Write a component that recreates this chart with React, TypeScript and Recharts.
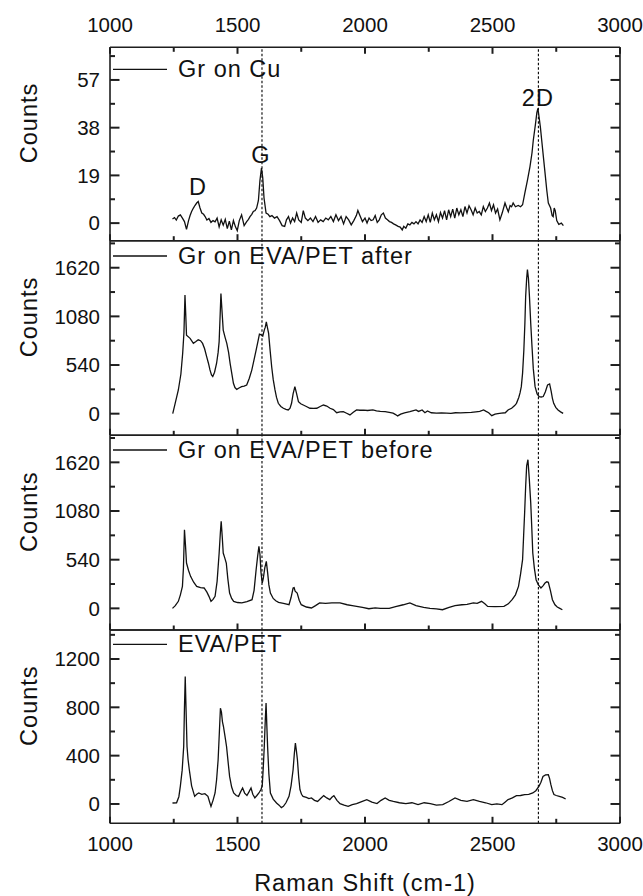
import React from 'react';
import { LineChart, Line, XAxis, YAxis, ReferenceLine, ReferenceDot, Legend } from 'recharts';

const FONT = "'Liberation Sans', Arial, sans-serif";
const INK = '#111111';
const FRAME = '#1e1e1e';
const THIN = 0.01;

// ---------- axis ticks ----------
const xMajorTicks = [1000, 1500, 2000, 2500, 3000];
const xMinorTicks = [1250, 1750, 2250, 2750];
const cuYMajor = [0, 19, 38, 57];
const cuYMinor = [9.5, 28.5, 47.5, 66.5];
const grYMajor = [0, 540, 1080, 1620];
const grYMinor = [270, 810, 1350, 1890];
const petYMajor = [0, 400, 800, 1200];
const petYMinor = [200, 600, 1000, 1400];

// ---------- series names ----------
const seriesNames = ['Gr on Cu', 'Gr on EVA/PET after', 'Gr on EVA/PET before', 'EVA/PET'];

// ---------- reference peak positions ----------
const peakLines = [1596, 2680];
const cuPeakNames = ['D', 'G', '2D'];
const cuPeakShift = [1345, 1592, 2678];
const cuPeakAnchor = [9.3, 21.9, 44.8];

// ---------- Gr on Cu ----------
const cuShift = [1245,1253,1260,1268,1276,1284,1292,1300,1308,1314,1320,1327,1333,1340,1346,1353,1360,1367,1373,1380,1388,1396,1404,1412,1420,1428,1436,1444,1452,1460,1468,1476,1484,1492,1499,1507,1516,1526,1536,1543,1549,1556,1562,1569,1575,1582,1588,1594,1599,1604,1612,1620,1627,1635,1645,1655,1665,1675,1685,1692,1700,1708,1716,1724,1732,1740,1750,1758,1766,1776,1786,1796,1806,1816,1826,1836,1846,1856,1866,1876,1886,1896,1906,1916,1926,1936,1946,1956,1966,1972,1980,1990,2000,2008,2016,2024,2032,2040,2048,2056,2064,2072,2080,2088,2096,2104,2112,2120,2130,2138,2146,2152,2160,2168,2176,2184,2192,2200,2208,2216,2224,2232,2240,2248,2256,2264,2272,2280,2288,2296,2304,2312,2320,2328,2336,2344,2352,2360,2368,2376,2384,2392,2400,2408,2416,2424,2432,2440,2448,2456,2464,2472,2480,2488,2496,2504,2512,2520,2529,2538,2549,2556,2562,2569,2575,2581,2590,2601,2610,2618,2627,2637,2647,2655,2660,2668,2674,2678,2683,2688,2693,2700,2706,2713,2719,2728,2734,2738,2742,2746,2752,2760,2770,2778];
const cuCounts = [1.6,2.2,1.2,2.8,3.3,2,0.6,-2.5,1,3,4.6,6,7,8,8.6,6,4,3.5,2.6,1.2,1.8,0.3,1,0.5,2,-1.5,1.3,-0.8,1.5,-2.2,0.8,-2.7,1,-1.5,-3,1,3.3,-1,0.6,1.5,2.6,3.5,4.6,5,6,9,17,21.9,18,10,4,3.5,2.6,3,2,2.6,1,-1,-1.3,1.3,2.6,0,2,0.6,4,1.3,0.3,5,2,1,2,0.6,2.6,0.3,1.3,0.6,2,1.3,2.6,0.6,3.3,1,2.6,-0.3,2.6,1.3,-0.7,1,3,5,3,0.6,2,0,2,1,1.3,3,0.3,1.3,3.3,4,2,1.3,0.6,0.3,-0.3,-0.7,-1.3,-1.6,-2.7,-1.3,-2,-0.3,-0.7,0.3,-0.3,0.6,-0.3,1.3,0.3,2.6,0.6,3.3,0.3,4,1.3,3.3,0.6,4.2,2,5,1.3,5.3,2.6,5.6,2,6,3.3,5.3,2.6,6.6,4,6.9,5.3,3.3,6,4,4.6,3.3,6.6,4.6,6,8,5,7.3,4,5.6,1.3,4,8,6,4.5,7,6.5,8,6.5,7,6.5,7.3,12,17,22.5,28,33,39,44,45.7,42,38,33,26,20,13,8,6,3,2.6,6,5,1,-0.5,0,-1];

// ---------- Gr on EVA/PET after ----------
const afterShift = [1246,1256,1268,1278,1285,1290,1294,1297,1300,1314,1327,1337,1346,1355,1363,1371,1379,1386,1392,1398,1403,1410,1418,1424,1428,1432,1435,1439,1444,1451,1458,1465,1471,1478,1484,1490,1497,1506,1516,1526,1536,1546,1556,1565,1573,1580,1586,1593,1599,1605,1609,1613,1617,1622,1628,1634,1640,1647,1653,1660,1670,1680,1690,1699,1706,1712,1718,1725,1731,1739,1748,1758,1770,1784,1798,1811,1824,1837,1850,1863,1876,1889,1902,1915,1928,1941,1954,1967,1980,1995,2010,2031,2045,2060,2079,2095,2110,2120,2128,2140,2155,2176,2190,2200,2210,2224,2235,2245,2260,2280,2300,2320,2337,2355,2375,2395,2417,2435,2450,2465,2475,2485,2497,2510,2521,2535,2550,2561,2575,2587,2594,2603,2608,2613,2618,2623,2627,2630,2634,2637,2641,2645,2650,2655,2660,2667,2675,2683,2691,2699,2707,2716,2724,2730,2735,2740,2748,2757,2767,2777];
const afterCounts = [0,120,263,440,670,900,1316,1100,870,836,780,800,820,810,780,720,634,560,486,430,413,460,560,680,800,1100,1334,1150,928,850,780,680,559,440,337,290,270,285,300,305,318,390,484,600,706,800,883,875,861,928,960,1020,960,891,700,521,380,263,180,115,80,60,48,41,60,115,220,300,230,133,110,96,80,60,58,60,80,96,85,60,45,11,20,22,5,-14,15,41,38,40,35,41,30,25,22,15,5,-10,-25,-5,10,22,35,42,25,41,10,30,10,5,8,5,3,10,8,12,15,20,25,41,25,10,-22,-5,0,5,10,41,60,90,115,180,230,300,450,706,1000,1297,1500,1600,1500,1297,1000,743,500,300,220,190,185,190,240,318,330,250,170,115,70,41,20,3];

// ---------- Gr on EVA/PET before ----------
const beforeShift = [1245,1256,1268,1276,1284,1288,1292,1296,1300,1308,1316,1328,1340,1355,1369,1380,1388,1396,1404,1412,1420,1428,1433,1436,1440,1444,1450,1456,1462,1469,1477,1485,1500,1517,1537,1557,1565,1573,1579,1584,1588,1592,1597,1601,1607,1613,1618,1623,1629,1640,1650,1661,1680,1702,1710,1718,1722,1726,1734,1742,1750,1770,1790,1806,1822,1845,1870,1902,1930,1950,1967,1990,2015,2040,2060,2095,2120,2150,2176,2200,2230,2255,2280,2304,2330,2353,2380,2400,2425,2440,2457,2470,2481,2510,2545,2562,2577,2590,2602,2610,2618,2622,2626,2630,2634,2639,2644,2650,2654,2658,2664,2671,2680,2690,2698,2706,2713,2719,2727,2735,2745,2754,2764,2774];
const beforeCounts = [0,30,78,150,244,450,872,700,503,420,355,290,244,230,226,180,133,78,100,133,300,614,850,965,800,614,560,503,330,170,110,78,65,60,75,96,200,429,580,687,600,400,281,330,450,521,400,260,170,110,85,67,55,41,120,226,230,190,170,90,41,15,4,30,60,55,60,60,40,30,22,10,-4,5,0,0,20,40,60,30,10,0,-5,-15,10,30,40,45,60,55,78,50,22,20,22,50,96,150,244,380,540,800,1057,1350,1580,1649,1450,1168,900,614,450,318,260,226,250,281,295,290,200,96,40,15,0,-15];

// ---------- EVA/PET ----------
const petShift = [1245,1261,1270,1276,1283,1289,1292,1295,1298,1302,1306,1311,1320,1332,1340,1348,1360,1372,1384,1390,1396,1404,1412,1418,1424,1429,1433,1437,1441,1445,1451,1457,1463,1469,1477,1485,1495,1504,1512,1520,1528,1537,1545,1553,1560,1568,1576,1584,1592,1597,1601,1605,1609,1612,1615,1618,1623,1629,1640,1653,1663,1672,1680,1690,1702,1710,1718,1723,1727,1731,1735,1740,1745,1751,1757,1770,1780,1790,1802,1814,1826,1838,1850,1862,1870,1878,1890,1902,1918,1934,1950,1967,1987,2007,2027,2047,2063,2079,2095,2111,2135,2160,2184,2208,2232,2256,2280,2305,2329,2353,2376,2400,2425,2449,2473,2497,2517,2537,2549,2561,2578,2594,2610,2626,2642,2658,2670,2682,2690,2698,2708,2719,2724,2729,2735,2741,2750,2762,2775,2787];
const petCounts = [8,10,60,150,280,476,800,1055,800,476,370,283,150,63,80,91,80,85,63,20,-20,30,91,200,366,600,793,760,680,641,560,476,350,228,140,91,70,63,100,132,90,70,100,132,80,50,70,91,120,150,300,476,700,835,650,476,250,91,40,8,-10,-30,-20,10,63,150,283,420,504,440,366,220,118,80,63,55,45,50,30,21,45,69,50,36,55,69,30,3,-10,-20,-5,3,20,36,15,3,30,50,30,21,10,3,10,-6,10,3,-10,-6,20,50,30,21,35,21,10,-6,0,-6,15,36,50,69,70,78,80,91,110,146,180,228,240,242,210,160,110,78,70,63,55,41];

const toPoints = (shift: number[], counts: number[]) => shift.map((s, i) => ({ shift: s, counts: counts[i] }));

const LEFT = 110;
const RIGHT_MARGIN = 23;
const W = 643;
const H = 896;
const PLOT_RIGHT = W - RIGHT_MARGIN;
const X_DOMAIN: [number, number] = [1000, 3000];

const TICK_FS = 20.5;
const TICK_W = 2;
const axisLineStyle = { stroke: FRAME, strokeWidth: 1.6 };
const bigText = { fontSize: 23.5, fill: INK, fontFamily: FONT, letterSpacing: 1.0 };

const countsLabel = (props: any) => {
  const vb = props.viewBox || { x: LEFT, y: 0, width: 0, height: 0 };
  const cx = vb.x + vb.width - 81;
  const cy = vb.y + vb.height / 2 - 21;
  return (
    <text
      x={cx}
      y={cy}
      transform={`rotate(-90 ${cx} ${cy})`}
      textAnchor="middle"
      dominantBaseline="central"
      {...bigText}
    >
      Counts
    </text>
  );
};

const coordOf = (props: any, fallback: number) => {
  const c = props && props.payload && props.payload.coordinate;
  return typeof c === 'number' ? c : fallback;
};

type PanelProps = {
  top: number;
  bottom: number;
  points: { shift: number; counts: number }[];
  yDomain: [number, number];
  yMajor: number[];
  yMinor: number[];
  name: string;
  legendLineY: number;
  topLabels?: boolean;
  bottomLabels?: boolean;
  annotate?: boolean;
};

function Panel(p: PanelProps) {
  const [yMin, yMax] = p.yDomain;
  const xTicks = [...xMajorTicks, ...xMinorTicks].sort((a, b) => a - b);
  const yTicks = [...p.yMajor, ...p.yMinor].sort((a, b) => a - b);
  const sx = (v: number) => LEFT + ((v - X_DOMAIN[0]) / (X_DOMAIN[1] - X_DOMAIN[0])) * (PLOT_RIGHT - LEFT);
  const sy = (v: number) => p.bottom - ((v - yMin) / (yMax - yMin)) * (p.bottom - p.top);

  const bottomTick = (props: any) => {
    const c = coordOf(props, props.x);
    if (!p.bottomLabels) return <g />;
    return (
      <text x={c} y={p.bottom + 28} textAnchor="middle" fontSize={TICK_FS} fill={INK} stroke="none" fontFamily={FONT}>
        {props.payload.value}
      </text>
    );
  };

  const topTick = (props: any) => {
    const c = coordOf(props, props.x);
    return (
      <text x={c} y={p.top - 15.6} textAnchor="middle" fontSize={TICK_FS} fill={INK} stroke="none" fontFamily={FONT}>
        {props.payload.value}
      </text>
    );
  };

  const leftTick = (props: any) => {
    const c = coordOf(props, props.y);
    return (
      <text x={LEFT - 10} y={c + 7.3} textAnchor="end" fontSize={TICK_FS} fill={INK} stroke="none" fontFamily={FONT}>
        {props.payload.value}
      </text>
    );
  };

  const overlay = () => (
    <svg width={W} height={H} style={{ display: 'block', overflow: 'visible', pointerEvents: 'none' }}>
      <g stroke={FRAME} strokeWidth={TICK_W} fill="none">
        {xTicks.map((t) => {
          const len = xMajorTicks.includes(t) ? 6.5 : 4.5;
          const x = sx(t);
          return (
            <g key={`x${t}`}>
              <line x1={x} x2={x} y1={p.bottom} y2={p.bottom - len} />
              {p.topLabels ? <line x1={x} x2={x} y1={p.top} y2={p.top + len} /> : null}
            </g>
          );
        })}
        {yTicks.map((t) => {
          const len = p.yMajor.includes(t) ? 9.5 : 5;
          const y = sy(t);
          return (
            <g key={`y${t}`}>
              <line x1={LEFT} x2={LEFT + len} y1={y} y2={y} />
              <line x1={PLOT_RIGHT} x2={PLOT_RIGHT - len} y1={y} y2={y} />
            </g>
          );
        })}
      </g>
      <line x1={113} x2={167} y1={p.legendLineY} y2={p.legendLineY} stroke={INK} strokeWidth={1.3} />
      <text x={178} y={p.legendLineY + 8} {...bigText}>
        {p.name}
      </text>
    </svg>
  );

  return (
    <div style={{ position: 'absolute', left: 0, top: 0, width: W, height: H }}>
      <LineChart width={W} height={H} margin={{ top: p.top, bottom: H - p.bottom, left: LEFT, right: RIGHT_MARGIN }}>
        <XAxis
          xAxisId="x"
          type="number"
          dataKey="shift"
          domain={X_DOMAIN}
          allowDataOverflow
          ticks={xMajorTicks}
          interval={0}
          height={THIN}
          orientation="bottom"
          tick={bottomTick}
          tickLine={false}
          axisLine={axisLineStyle}
          label={p.bottomLabels ? { value: 'Raman Shift (cm-1)', position: 'bottom', offset: 51, ...bigText } : undefined}
        />
        <XAxis
          xAxisId="xt"
          type="number"
          dataKey="shift"
          domain={X_DOMAIN}
          allowDataOverflow
          ticks={xMajorTicks}
          interval={0}
          height={THIN}
          orientation="top"
          tick={p.topLabels ? topTick : false}
          tickLine={false}
          axisLine={axisLineStyle}
        />
        <YAxis
          yAxisId="y"
          type="number"
          domain={p.yDomain}
          allowDataOverflow
          ticks={p.yMajor}
          interval={0}
          width={THIN}
          orientation="left"
          tick={leftTick}
          tickLine={false}
          axisLine={axisLineStyle}
          label={{ content: countsLabel }}
        />
        <YAxis
          yAxisId="yr"
          type="number"
          domain={p.yDomain}
          allowDataOverflow
          ticks={p.yMajor}
          interval={0}
          width={THIN}
          orientation="right"
          tick={false}
          tickLine={false}
          axisLine={axisLineStyle}
        />
        {peakLines.map((px) => (
          <ReferenceLine
            key={px}
            xAxisId="x"
            yAxisId="y"
            x={px}
            stroke="#000"
            strokeWidth={1.1}
            strokeDasharray="2.5 2"
          />
        ))}
        <Line
          xAxisId="x"
          yAxisId="y"
          data={p.points}
          dataKey="counts"
          name={p.name}
          type="linear"
          stroke={INK}
          strokeWidth={1.3}
          dot={false}
          isAnimationActive={false}
        />
        {p.annotate &&
          cuPeakNames.map((n, i) => (
            <ReferenceDot
              key={n}
              xAxisId="x"
              yAxisId="y"
              x={cuPeakShift[i]}
              y={cuPeakAnchor[i]}
              r={0}
              fill="none"
              stroke="none"
              label={{ value: n, position: 'top', offset: 5, ...bigText }}
            />
          ))}
        <Legend
          layout="vertical"
          align="center"
          verticalAlign="middle"
          wrapperStyle={{ position: 'absolute', left: 0, top: 0, width: W, height: H, pointerEvents: 'none' }}
          content={overlay}
        />
      </LineChart>
    </div>
  );
}

export default function App() {
  return (
    <div
      style={{
        position: 'absolute',
        left: 0,
        top: 0,
        width: W,
        height: H,
        background: '#fff',
        fontFamily: FONT,
      }}
    >
      <Panel
        top={47.3}
        bottom={240.7}
        points={toPoints(cuShift, cuCounts)}
        yDomain={[-7, 70]}
        yMajor={cuYMajor}
        yMinor={cuYMinor}
        name={seriesNames[0]}
        legendLineY={69.3}
        topLabels
        annotate
      />
      <Panel
        top={240.7}
        bottom={435.3}
        points={toPoints(afterShift, afterCounts)}
        yDomain={[-240, 1920]}
        yMajor={grYMajor}
        yMinor={grYMinor}
        name={seriesNames[1]}
        legendLineY={256}
      />
      <Panel
        top={435.3}
        bottom={630}
        points={toPoints(beforeShift, beforeCounts)}
        yDomain={[-240, 1920]}
        yMajor={grYMajor}
        yMinor={grYMinor}
        name={seriesNames[2]}
        legendLineY={450}
      />
      <Panel
        top={630}
        bottom={823.3}
        points={toPoints(petShift, petCounts)}
        yDomain={[-160, 1440]}
        yMajor={petYMajor}
        yMinor={petYMinor}
        name={seriesNames[3]}
        legendLineY={644.3}
        bottomLabels
      />
    </div>
  );
}
